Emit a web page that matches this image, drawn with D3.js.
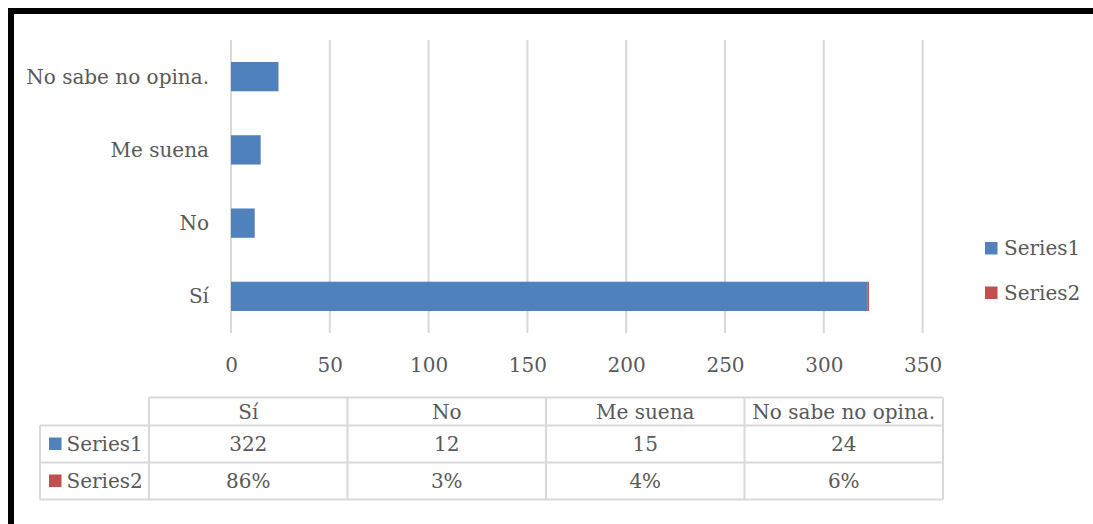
<!DOCTYPE html>
<html><head><meta charset="utf-8">
<script src="https://cdn.jsdelivr.net/npm/d3@7"></script>
<style>
html,body{margin:0;padding:0;background:#fff;}
svg{display:block;}
text{font-family:"DejaVu Serif",serif;fill:#595959;}
</style></head>
<body>
<svg id="chart" width="1093" height="524"></svg>
<script>
const categories = ["Sí", "No", "Me suena", "No sabe no opina."];
const series1 = [322, 12, 15, 24];
const series2 = [0.86, 0.03, 0.04, 0.06];
const series2Labels = ["86%", "3%", "4%", "6%"];
const seriesNames = ["Series1", "Series2"];
const xTicks = [0, 50, 100, 150, 200, 250, 300, 350];
const colors = ["#4f81bd", "#c0504d"];

const svg = d3.select("#chart");
const W = 1093, H = 524;
const fs = 20;

// frame border (top & left)
svg.append("rect").attr("x", 8).attr("y", 8).attr("width", W).attr("height", 6).attr("fill", "#000");
svg.append("rect").attr("x", 8).attr("y", 8).attr("width", 6).attr("height", H).attr("fill", "#000");

const plot = {left: 231, right: 922.6, top: 40, bottom: 333};
const x = d3.scaleLinear().domain([0, 350]).range([plot.left, plot.right]);
const y = d3.scaleBand().domain(categories.slice().reverse()).range([plot.top, plot.bottom]).paddingInner(0.6).paddingOuter(0.3);

// gridlines
svg.append("g").selectAll("line").data(xTicks).join("line")
  .attr("x1", d => x(d)).attr("x2", d => x(d))
  .attr("y1", plot.top).attr("y2", plot.bottom)
  .attr("stroke", "#d9d9d9").attr("stroke-width", 2);

// stacked data
const rows = categories.map((c, i) => ({cat: c, Series1: series1[i], Series2: series2[i]}));
const stack = d3.stack().keys(seriesNames)(rows);
svg.append("g").selectAll("g").data(stack).join("g")
  .attr("fill", (d, i) => colors[i])
  .selectAll("rect").data(d => d).join("rect")
  .attr("x", d => x(d[0]))
  .attr("width", d => x(d[1]) - x(d[0]))
  .attr("y", d => y(d.data.cat))
  .attr("height", y.bandwidth());

// x axis labels
const xAxis = d3.axisBottom(x).tickValues(xTicks).tickSize(0).tickPadding(0);
const gx = svg.append("g").attr("transform", `translate(0,${plot.bottom})`).call(xAxis);
gx.select(".domain").remove();
gx.selectAll("text").attr("font-size", fs).attr("font-family", "DejaVu Serif").attr("fill", "#595959")
  .attr("dy", null).attr("y", 38.5);

// y axis labels
const yAxis = d3.axisLeft(y).tickSize(0).tickPadding(0);
const gy = svg.append("g").attr("transform", `translate(209,0)`).call(yAxis);
gy.select(".domain").remove();
gy.selectAll("text").attr("font-size", fs).attr("font-family", "DejaVu Serif").attr("fill", "#595959")
  .attr("dy", "0.35em");

// legend
const leg = svg.append("g");
seriesNames.forEach((s, i) => {
  const ly = 248 + i * 44.5;
  leg.append("rect").attr("x", 985).attr("y", ly - 6).attr("width", 12.5).attr("height", 12.5).attr("fill", colors[i]);
  leg.append("text").attr("x", 1004).attr("y", ly).attr("dy", "0.35em").attr("font-size", fs).text(s);
});

// data table
const tbl = svg.append("g");
const colX = d3.scaleBand().domain(categories).range([149, 943]);
const rowsY = [397.5, 425.5, 462.5, 499.5];
const tLeft = 40;
const lineC = "#d9d9d9";
// horizontal lines
tbl.append("line").attr("x1", 149).attr("x2", 943).attr("y1", rowsY[0]).attr("y2", rowsY[0]).attr("stroke", lineC).attr("stroke-width", 2);
[1, 2, 3].forEach(k => tbl.append("line").attr("x1", tLeft).attr("x2", 943).attr("y1", rowsY[k]).attr("y2", rowsY[k]).attr("stroke", lineC).attr("stroke-width", 2));
// vertical lines
tbl.append("line").attr("x1", tLeft).attr("x2", tLeft).attr("y1", rowsY[1]).attr("y2", rowsY[3]).attr("stroke", lineC).attr("stroke-width", 2);
categories.forEach(c => tbl.append("line").attr("x1", colX(c)).attr("x2", colX(c)).attr("y1", rowsY[0]).attr("y2", rowsY[3]).attr("stroke", lineC).attr("stroke-width", 2));
tbl.append("line").attr("x1", 943).attr("x2", 943).attr("y1", rowsY[0]).attr("y2", rowsY[3]).attr("stroke", lineC).attr("stroke-width", 2);

// header text
categories.forEach(c => tbl.append("text").attr("x", colX(c) + colX.bandwidth() / 2).attr("y", (rowsY[0] + rowsY[1]) / 2)
  .attr("dy", "0.35em").attr("text-anchor", "middle").attr("font-size", fs).text(c));
// series rows
const rowVals = [series1.map(String), series2Labels];
seriesNames.forEach((s, i) => {
  const cy = (rowsY[i + 1] + rowsY[i + 2]) / 2;
  tbl.append("rect").attr("x", 49).attr("y", cy - 6.5).attr("width", 12.5).attr("height", 12.5).attr("fill", colors[i]);
  tbl.append("text").attr("x", 66.5).attr("y", cy).attr("dy", "0.35em").attr("font-size", fs).text(s);
  categories.forEach((c, j) => tbl.append("text").attr("x", colX(c) + colX.bandwidth() / 2).attr("y", cy)
    .attr("dy", "0.35em").attr("text-anchor", "middle").attr("font-size", fs).text(rowVals[i][j]));
});
</script>
</body></html>
